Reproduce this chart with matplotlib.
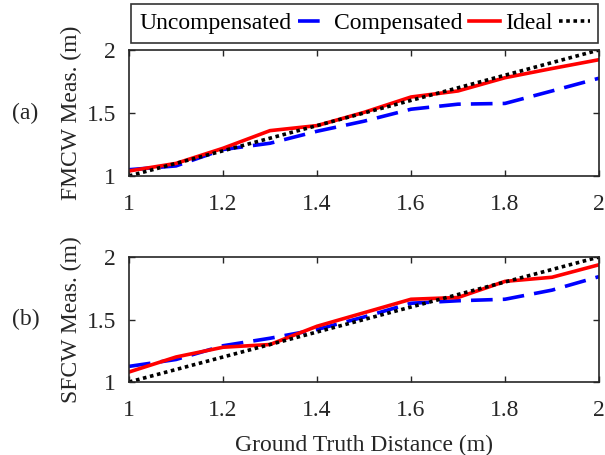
import numpy as np
import matplotlib
matplotlib.use("Agg")
import matplotlib.pyplot as plt

plt.rcParams['font.family'] = ['Liberation Serif', 'DejaVu Serif']
plt.rcParams['font.size'] = 17

distance = [1.0, 1.1, 1.2, 1.3, 1.4, 1.5, 1.6, 1.7, 1.8, 1.9, 2.0]

fmcw_uncomp = [1.05, 1.08, 1.21, 1.26, 1.355, 1.435, 1.53, 1.57, 1.576, 1.675, 1.776]
fmcw_comp = [1.04, 1.10, 1.22, 1.36, 1.40, 1.505, 1.627, 1.675, 1.78, 1.853, 1.923]

sfcw_uncomp = [1.125, 1.18, 1.29, 1.35, 1.42, 1.52, 1.63, 1.65, 1.662, 1.735, 1.843]
sfcw_comp = [1.08, 1.20, 1.278, 1.30, 1.446, 1.554, 1.662, 1.676, 1.805, 1.838, 1.938]

ideal = distance

fig = plt.figure(figsize=(6.05, 4.55), dpi=100)
ax_a = fig.add_axes([129/605, 1 - 176/455, 470/605, 126/455])
ax_b = fig.add_axes([129/605, 1 - 382/455, 470/605, 125/455])

panels = [
    (ax_a, fmcw_uncomp, fmcw_comp, "FMCW Meas. (m)", "(a)"),
    (ax_b, sfcw_uncomp, sfcw_comp, "SFCW Meas. (m)", "(b)"),
]

for ax, uncomp, comp, ylab, tag in panels:
    ax.plot(distance, uncomp, color="#0000ff", linestyle=(0, (6, 2.8)), linewidth=2.6,
            label="Uncompensated")
    ax.plot(distance, comp, color="#ff0000", linewidth=2.6, label="Compensated")
    ax.plot(distance, ideal, color="black", linestyle=(0, (1, 1)), linewidth=2.6,
            label="Ideal")
    ax.set_xlim(1, 2)
    ax.set_ylim(1, 2)
    ax.set_xticks([1, 1.2, 1.4, 1.6, 1.8, 2])
    ax.set_xticklabels(["1", "1.2", "1.4", "1.6", "1.8", "2"])
    ax.set_yticks([1, 1.5, 2])
    ax.set_yticklabels(["1", "1.5", "2"])
    ax.tick_params(direction="in", top=True, right=True, length=4, width=1,
                   colors="#262626", labelcolor="#262626")
    ax.tick_params(axis="x", pad=13)
    ax.tick_params(axis="y", pad=9.5)
    for sp in ax.spines.values():
        sp.set_color("#262626")
        sp.set_linewidth(1.2)
    ax.set_ylabel(ylab, color="#262626", labelpad=3)
    ax.text(-0.22, 0.5, tag, transform=ax.transAxes, ha="center", va="center",
            color="#262626")

ax_b.set_xlabel("Ground Truth Distance (m)", color="#262626", labelpad=10)

handles, labels = ax_a.get_legend_handles_labels()
leg = fig.legend(handles, labels, ncol=3, markerfirst=False, loc="center",
                 bbox_to_anchor=(364.5/605, 1 - 23.5/455), frameon=True, fancybox=False,
                 handlelength=1.3, columnspacing=0.2, handletextpad=0.3,
                 borderpad=0.35, borderaxespad=0, edgecolor="black")
leg.get_frame().set_linewidth(1.2)

fig.savefig("out.png", dpi=100)
